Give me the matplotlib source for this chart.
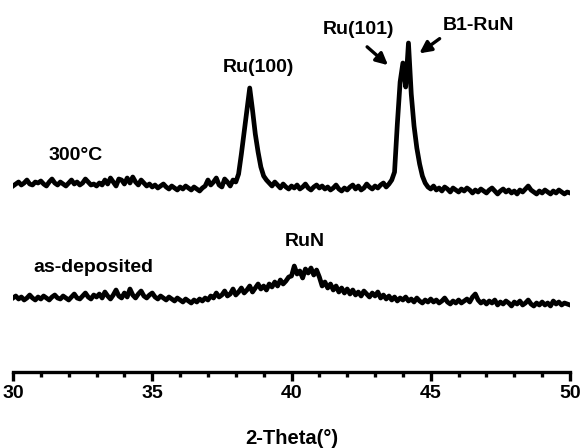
import matplotlib
matplotlib.use("Agg")
import matplotlib.pyplot as plt
import numpy as np

# 2-theta grid (deg), 0.1 step
two_theta = np.round(np.arange(30.0, 50.01, 0.1), 2)

# annealed at 300C (arbitrary units, already offset)
intensity_300 = [
    186, 188, 190, 187, 189, 192, 188, 187, 190, 189,
    191, 188, 186, 190, 193, 189, 187, 190, 188, 186,
    189, 192, 188, 190, 187, 189, 193, 190, 187, 188,
    186, 189, 187, 192, 188, 194, 190, 186, 193, 192,
    188, 194, 189, 195, 190, 187, 192, 189, 186, 188,
    185, 187, 184, 186, 188, 185, 183, 186, 184, 182,
    185, 183, 186, 184, 182, 185, 183, 181, 184, 186,
    192, 187, 190, 194, 187, 185, 193, 190, 186, 192,
    190, 198, 218, 240, 262, 284, 262, 238, 220, 205,
    196, 192, 189, 186, 190, 187, 184, 188, 185, 183,
    186, 184, 187, 183, 185, 188, 184, 182, 185, 187,
    184, 186, 183, 185, 182, 184, 187, 183, 181, 184,
    182, 185, 187, 183, 186, 182, 184, 188, 185, 183,
    186, 184, 187, 189, 185, 188, 192, 200, 248, 290,
    309, 285, 329, 278, 246, 224, 208, 196, 189, 185,
    183, 186, 182, 184, 181, 185, 183, 180, 184, 182,
    180, 183, 181, 184, 182, 179, 182, 180, 183, 181,
    179, 182, 184, 181, 178, 181, 183, 180, 182, 179,
    181, 178, 182, 180, 183, 186, 182, 180, 178, 181,
    179, 182, 180, 178, 181, 179, 182, 180, 178, 180,
    179,
]

# as-deposited film
intensity_asdep = [
    74, 76, 73, 75, 72, 74, 77, 74, 72, 75,
    73, 76, 74, 72, 75, 77, 74, 73, 76, 74,
    72, 75, 78, 74, 73, 76, 79, 75, 73, 77,
    75, 78, 74, 80, 76, 73, 77, 82, 76, 74,
    79, 75, 83, 77, 74, 78, 81, 76, 74, 77,
    79, 75, 73, 76, 74, 72, 75, 73, 71, 74,
    72, 70, 73, 71, 69, 72, 70, 73, 71, 74,
    72, 76, 74, 79, 75, 77, 81, 76, 78, 83,
    77, 80, 84, 79, 82, 86, 80, 84, 88, 83,
    86, 82, 88, 85, 90, 86, 92, 88, 91, 95,
    96, 106, 98, 101, 94, 103, 99, 104, 97, 102,
    95, 86, 90, 84, 88, 82, 86, 80, 84, 79,
    83, 78, 82, 77, 80, 76, 81, 78, 75, 79,
    76, 80, 74, 77, 73, 76, 72, 75, 71, 74,
    72, 75, 71, 73, 70, 74, 71, 69, 72, 70,
    73, 70, 72, 69, 71, 74, 70, 68, 71, 69,
    72, 69, 71, 73, 70, 75, 78, 72, 69, 71,
    68, 71, 69, 72, 67, 70, 68, 71, 69, 66,
    70, 68, 71, 67, 69, 72, 68, 66, 69, 67,
    70, 67, 69, 66, 71, 68, 70, 67, 69, 68,
    67,
]

x_ticks = [30, 35, 40, 45, 50]

plt.rcParams["font.family"] = ["Liberation Sans", "DejaVu Sans"]
plt.rcParams["font.weight"] = "bold"
fs = 14

fig = plt.figure(figsize=(5.82, 4.48), dpi=100)
ax = fig.add_axes([13 / 582, 76 / 448, 557 / 582, 372 / 448])

ax.plot(two_theta, intensity_300, color="black", lw=3.4, solid_joinstyle="round")
ax.plot(two_theta, intensity_asdep, color="black", lw=3.4, solid_joinstyle="round")

ax.set_xlim(30, 50)
ax.set_ylim(0, 372)

# only the bottom axis is shown
for side in ["left", "right", "top"]:
    ax.spines[side].set_visible(False)
ax.spines["bottom"].set_linewidth(2.4)
ax.set_yticks([])
ax.set_xticks(x_ticks)
ax.set_xticks(np.arange(30, 51, 1), minor=True)
ax.tick_params(axis="x", which="major", direction="out", length=6.5, width=2.4,
               labelsize=fs, pad=3)
ax.tick_params(axis="x", which="minor", direction="out", length=3.5, width=2.4)
for lab in ax.get_xticklabels():
    lab.set_fontweight("bold")
ax.set_xlabel("2-Theta(°)", fontsize=fs + 0.5, fontweight="bold", labelpad=19)

# sample labels
ax.text(31.26, 217, "300°C", fontsize=fs, fontweight="bold", va="center", ha="left")
ax.text(30.72, 104, "as-deposited", fontsize=fs, fontweight="bold", va="center", ha="left")

# peak labels
ax.text(38.8, 305, "Ru(100)", fontsize=fs, fontweight="bold", va="center", ha="center")
ax.text(42.39, 342, "Ru(101)", fontsize=fs, fontweight="bold", va="center", ha="center")
ax.text(46.70, 347, "B1-RuN", fontsize=fs, fontweight="bold", va="center", ha="center")
ax.text(40.48, 130, "RuN", fontsize=fs, fontweight="bold", va="center", ha="center")

arrow = dict(arrowstyle="-|>,head_length=0.7,head_width=0.35", color="black", lw=2.4)
ax.annotate("", xy=(43.54, 305), xytext=(42.64, 327), arrowprops=arrow)
ax.annotate("", xy=(44.51, 317), xytext=(45.40, 335), arrowprops=arrow)

plt.savefig("out.png", dpi=100)
